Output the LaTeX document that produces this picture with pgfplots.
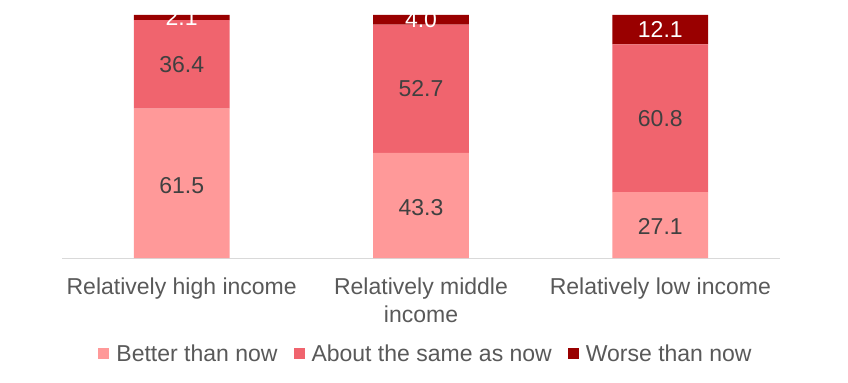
\documentclass[border=0pt]{standalone}
\usepackage{pgfplots}
\pgfplotsset{compat=1.18}
\usepackage{fontspec}
\setmainfont{Liberation Sans}
\definecolor{cBetter}{HTML}{FF9999}
\definecolor{cSame}{HTML}{F0646E}
\definecolor{cWorse}{HTML}{990000}
\definecolor{txt}{HTML}{595959}
\definecolor{lbl}{HTML}{404040}
\definecolor{axl}{HTML}{D9D9D9}
\newcommand{\cf}{\fontsize{23bp}{28bp}\selectfont}
\begin{document}
\begin{tikzpicture}
\useasboundingbox (-62bp,-125bp) rectangle (786bp,258bp);
\begin{axis}[
  scale only axis, width=718bp, height=243bp,
  xmin=-0.5, xmax=2.5, ymin=0, ymax=100,
  ybar stacked, bar width=0.4,
  axis y line=none, axis x line*=bottom,
  x axis line style={draw=axl, line width=1bp},
  xtick={0,1,2},
  xticklabels={Relatively high income,{Relatively middle\\income},Relatively low income},
  major tick length=0pt,
  xticklabel style={font=\cf, text=txt, align=center, inner sep=0pt, yshift=-20bp},
  clip=false,
  legend columns=3,
  legend style={at={(0.507,-0.395)}, anchor=center, draw=none, font=\cf, text=txt,
    /tikz/every odd column/.append style={column sep=5bp},
    /tikz/every even column/.append style={column sep=14bp}},
  legend image code/.code={\fill[#1,draw=none] (0bp,-5.5bp) rectangle (11bp,5.5bp);},
]
\addplot[fill=cBetter, draw=none] coordinates {(0,61.5) (1,43.3) (2,27.1)};
\addplot[fill=cSame, draw=none] coordinates {(0,36.4) (1,52.7) (2,60.8)};
\addplot[fill=cWorse, draw=none] coordinates {(0,2.1) (1,4.0) (2,12.1)};
\legend{Better than now, About the same as now, Worse than now}
\end{axis}
\begin{axis}[
  scale only axis, width=718bp, height=243bp,
  xmin=-0.5, xmax=2.5, ymin=0, ymax=100,
  hide axis, clip=false,
]
\addplot[only marks, mark=none, nodes near coords, point meta=explicit symbolic,
  nodes near coords align={center},
  every node near coord/.append style={anchor=center, text=lbl, font=\cf}]
  table[meta=l] {
x y l
0 30.0 61.5
1 20.8 43.3
2 12.8 27.1
0 79.7 36.4
1 69.65 52.7
2 57.5 60.8
};
\addplot[only marks, mark=none, nodes near coords, point meta=explicit symbolic,
  nodes near coords align={center},
  every node near coord/.append style={anchor=center, text=white, font=\cf}]
  table[meta=l] {
x y l
0 98.95 2.1
1 98 4.0
2 93.95 12.1
};
\end{axis}
\end{tikzpicture}
\end{document}
